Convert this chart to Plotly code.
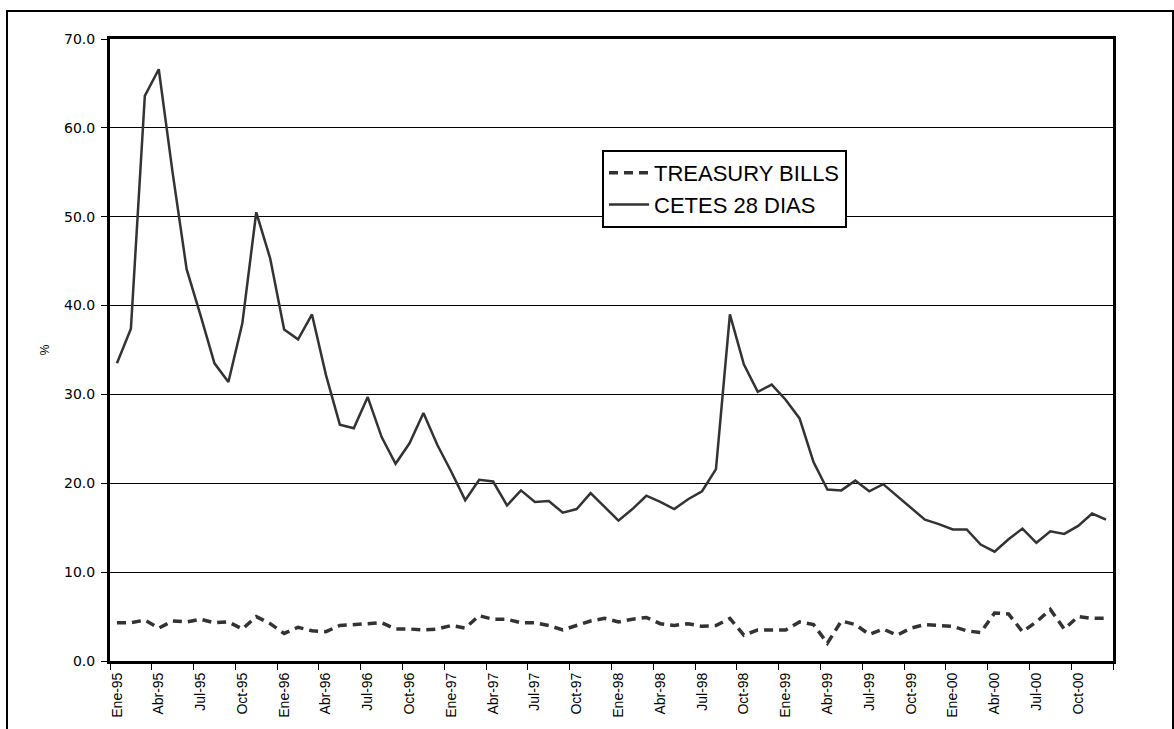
import plotly.graph_objects as go

months_es = ["Ene", "Feb", "Mar", "Abr", "May", "Jun", "Jul", "Ago", "Sep", "Oct", "Nov", "Dic"]
years = ["95", "96", "97", "98", "99", "00"]
categories = [f"{m}-{y}" for y in years for m in months_es]

treasury_bills = [
    4.3, 4.3, 4.6, 3.7, 4.5, 4.4, 4.7, 4.3, 4.4, 3.6, 5.0, 4.2,
    3.1, 3.8, 3.4, 3.3, 4.0, 4.1, 4.2, 4.3, 3.6, 3.6, 3.5, 3.6,
    4.0, 3.7, 5.1, 4.7, 4.7, 4.3, 4.3, 4.0, 3.5, 4.0, 4.5, 4.8,
    4.4, 4.7, 4.9, 4.2, 4.0, 4.2, 3.9, 4.0, 4.8, 2.9, 3.5, 3.5,
    3.5, 4.4, 4.1, 2.0, 4.5, 4.1, 3.0, 3.6, 2.9, 3.7, 4.1, 4.0,
    3.9, 3.4, 3.2, 5.4, 5.3, 3.3, 4.4, 5.8, 3.6, 5.0, 4.8, 4.8,
]

cetes_28 = [
    33.5, 37.4, 63.6, 66.6, 54.9, 44.1, 38.9, 33.5, 31.4, 38.0, 50.5, 45.3,
    37.3, 36.2, 39.0, 32.2, 26.6, 26.2, 29.7, 25.2, 22.2, 24.5, 27.9, 24.3,
    21.3, 18.1, 20.4, 20.2, 17.5, 19.2, 17.9, 18.0, 16.7, 17.1, 18.9, 17.4,
    15.8, 17.1, 18.6, 17.9, 17.1, 18.2, 19.1, 21.6, 39.0, 33.4, 30.3, 31.1,
    29.4, 27.3, 22.4, 19.3, 19.2, 20.3, 19.1, 19.9, 18.6, 17.2, 15.9, 15.4,
    14.8, 14.8, 13.1, 12.3, 13.7, 14.9, 13.3, 14.6, 14.3, 15.2, 16.6, 15.9,
]

y_ticks = [0, 10, 20, 30, 40, 50, 60, 70]

fig = go.Figure()
fig.add_trace(go.Scatter(
    x=categories, y=treasury_bills, mode="lines", name="TREASURY BILLS",
    line=dict(color="#333333", width=3.5, dash="9px,6px"),
))
fig.add_trace(go.Scatter(
    x=categories, y=cetes_28, mode="lines", name="CETES 28 DIAS",
    line=dict(color="#333333", width=2.5),
))

L, R, T, B = 110, 61, 39, 68
W, H = 1174, 729
pw, ph = W - L - R, H - T - B

def px2x(p):
    return (p - L) / pw

def py2y(p):
    return (H - B - p) / ph

fig.add_shape(type="rect", xref="paper", yref="paper",
              x0=px2x(7), x1=px2x(1173), y0=py2y(760), y1=py2y(11),
              line=dict(color="black", width=2), fillcolor="rgba(0,0,0,0)")

fig.update_layout(
    width=W, height=H,
    margin=dict(l=L, r=R, t=T, b=B),
    paper_bgcolor="white", plot_bgcolor="white",
    font=dict(family="Arial, Liberation Sans, sans-serif", color="black"),
    showlegend=True,
    legend=dict(
        x=px2x(602), y=py2y(150), xanchor="left", yanchor="top",
        bgcolor="white", bordercolor="black", borderwidth=2,
        font=dict(size=22, color="black"),
        tracegroupgap=0, itemwidth=40,
    ),
    xaxis=dict(
        type="category", categoryorder="array", categoryarray=categories,
        tickmode="linear", tick0=0, dtick=3, tickson="boundaries",
        ticks="outside", ticklen=6, tickwidth=1, tickcolor="black",
        tickangle=-90, tickfont=dict(size=14, color="black"),
        ticklabelstandoff=3,
        showline=True, linecolor="black", linewidth=3, mirror=True,
        showgrid=False, range=[-0.5, len(categories) - 0.5],
    ),
    yaxis=dict(
        range=[0, 70], tickvals=y_ticks, tickformat=".1f",
        ticks="outside", ticklen=6, tickwidth=1, tickcolor="black",
        tickfont=dict(size=14, color="black", family="DejaVu Sans"),
        ticklabelstandoff=3,
        showline=True, linecolor="black", linewidth=3, mirror=True,
        showgrid=True, gridcolor="black", gridwidth=1,
        zeroline=False,
        title=dict(text="%", font=dict(size=12, color="black"), standoff=12),
    ),
)

fig.write_html("out.html")
